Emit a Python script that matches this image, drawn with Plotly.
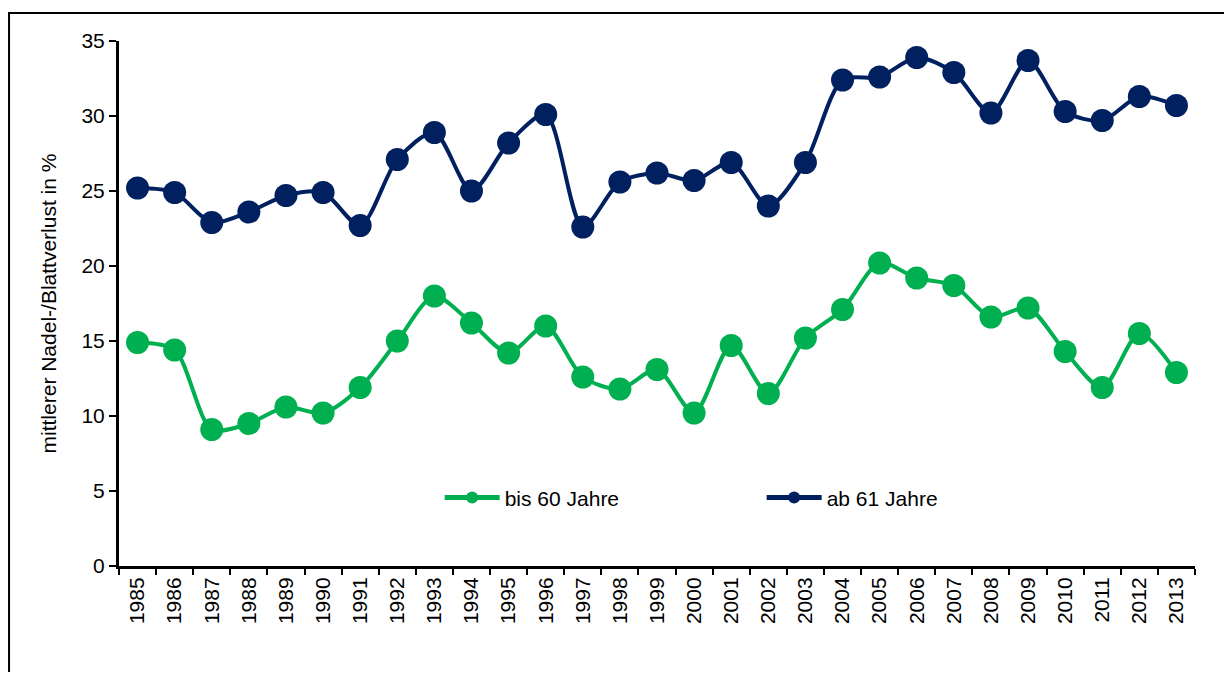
import plotly.graph_objects as go

years = [str(y) for y in range(1985, 2014)]

bis_60 = [14.9, 14.4, 9.1, 9.5, 10.6, 10.2, 11.9, 15.0, 18.0, 16.2,
          14.2, 16.0, 12.6, 11.8, 13.1, 10.2, 14.7, 11.5, 15.2, 17.1,
          20.2, 19.2, 18.7, 16.6, 17.2, 14.3, 11.9, 15.5, 12.9]

ab_61 = [25.2, 24.9, 22.9, 23.6, 24.7, 24.9, 22.7, 27.1, 28.9, 25.0,
         28.2, 30.1, 22.6, 25.6, 26.2, 25.7, 26.9, 24.0, 26.9, 32.4,
         32.6, 33.9, 32.9, 30.2, 33.7, 30.3, 29.7, 31.3, 30.7]

green = "#00B050"
navy = "#002060"

fig = go.Figure()
fig.add_trace(go.Scatter(
    x=years, y=bis_60, name="bis 60 Jahre", mode="lines+markers",
    line=dict(color=green, width=4, shape="spline", smoothing=0.8),
    marker=dict(color=green, size=23),
))
fig.add_trace(go.Scatter(
    x=years, y=ab_61, name="ab 61 Jahre", mode="lines+markers",
    line=dict(color=navy, width=4, shape="spline", smoothing=0.8),
    marker=dict(color=navy, size=23),
))

fig.update_layout(
    width=1216, height=664,
    margin=dict(l=111, r=29, t=33, b=106),
    paper_bgcolor="white", plot_bgcolor="white",
    font=dict(family="Liberation Sans, Arial, sans-serif", color="black", size=21),
    showlegend=True,
    legend=dict(
        orientation="h", x=0.298, y=0.13, xanchor="left", yanchor="middle",
        itemsizing="constant", itemwidth=55,
        entrywidth=252, entrywidthmode="pixels",
        font=dict(size=21), bgcolor="rgba(0,0,0,0)",
    ),
    xaxis=dict(
        type="category", range=[-0.5, 28.5],
        showline=True, linecolor="black", linewidth=3,
        ticks="outside", tickson="boundaries", ticklen=6, tickwidth=2, tickcolor="black",
        tickangle=-90, tickfont=dict(size=21),
        showgrid=False, zeroline=False,
    ),
    yaxis=dict(
        range=[0, 35], dtick=5,
        showline=True, linecolor="black", linewidth=3,
        ticks="outside", ticklen=7, tickwidth=2, tickcolor="black",
        tickfont=dict(size=21),
        showgrid=False, zeroline=False,
        title=dict(text="mittlerer Nadel-/Blattverlust in %", font=dict(size=21), standoff=20),
    ),
    shapes=[dict(
        type="rect", xref="paper", yref="paper",
        x0=-0.1022, x1=1.2, y0=-0.5, y1=1.0533,
        line=dict(color="black", width=2), fillcolor="rgba(0,0,0,0)",
    )],
)

fig.write_html("out.html")
